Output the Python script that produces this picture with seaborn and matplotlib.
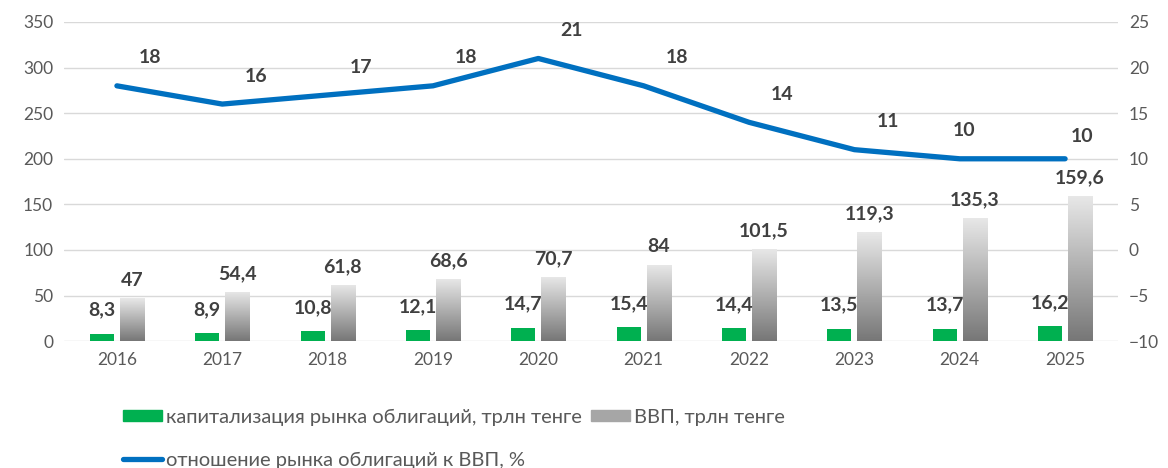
import numpy as np
import pandas as pd
import seaborn as sns
import matplotlib.pyplot as plt
from matplotlib.colors import LinearSegmentedColormap
from matplotlib.patches import Patch
from matplotlib.lines import Line2D

sns.set_theme(style="white")
plt.rcParams['font.family'] = ['Lato', 'DejaVu Sans']

years = ["2016", "2017", "2018", "2019", "2020", "2021", "2022", "2023", "2024", "2025"]
bond_cap = [8.3, 8.9, 10.8, 12.1, 14.7, 15.4, 14.4, 13.5, 13.7, 16.2]
gdp = [47, 54.4, 61.8, 68.6, 70.7, 84, 101.5, 119.3, 135.3, 159.6]
ratio = [18, 16, 17, 18, 21, 18, 14, 11, 10, 10]

CAP_NAME = "капитализация рынка облигаций, трлн тенге"
GDP_NAME = "ВВП, трлн тенге"
RATIO_NAME = "отношение рынка облигаций к ВВП, %"

GREEN = "#00b050"
BLUE = "#0070c0"
TXT = "#595959"
LBL = "#404040"


def fmt(v):
    return f"{v:g}".replace(".", ",")


df = pd.DataFrame({
    "year": years * 2,
    "series": [CAP_NAME] * len(years) + [GDP_NAME] * len(years),
    "value": bond_cap + gdp,
})

fig = plt.figure(figsize=(11.68, 4.68), dpi=100)
ax = fig.add_axes([0.055, 0.271, 0.902, 0.682])

sns.barplot(data=df, x="year", y="value", hue="series", ax=ax,
            palette=[GREEN, "#a6a6a6"], width=0.57, gap=0.2,
            legend=False, saturation=1, edgecolor="none")

ax.set_ylim(0, 350)
ax.set_yticks(range(0, 351, 50))
ax.grid(axis="y", color="#d9d9d9", lw=1)
ax.set_axisbelow(True)
for s in ax.spines.values():
    s.set_visible(False)
ax.set_xlabel("")
ax.set_ylabel("")
ax.tick_params(axis="both", length=0, labelsize=12.5, colors=TXT, pad=8)

# gradient fill for GDP bars, labels for both series
grad = LinearSegmentedColormap.from_list("g", ["#777777", "#e8e8e8"])
n = len(years)
bars = ax.patches
for i, p in enumerate(bars[:n]):
    ax.annotate(fmt(bond_cap[i]), (p.get_x() + p.get_width() / 2, p.get_height()),
                xytext=(0, 11), textcoords="offset points", ha="center", va="bottom",
                fontsize=14, fontweight="bold", color=LBL)
for i, p in enumerate(bars[n:2 * n]):
    x0, w, h = p.get_x(), p.get_width(), p.get_height()
    im = ax.imshow(np.linspace(0, 1, 100).reshape(-1, 1), cmap=grad, aspect="auto",
                   origin="lower", extent=[x0, x0 + w, 0, h], zorder=p.get_zorder())
    im.set_clip_path(p)
    p.set_facecolor("none")
    ax.annotate(fmt(gdp[i]), (x0 + w / 2, h),
                xytext=(0, 7), textcoords="offset points", ha="center", va="bottom",
                fontsize=14, fontweight="bold", color=LBL)
ax.set_xlim(-0.5, n - 0.5)
ax.set_ylim(0, 350)

ax2 = ax.twinx()
sns.lineplot(x=np.arange(n), y=ratio, ax=ax2, color=BLUE, lw=3.8)
ax2.set_ylim(-10, 25)
ax2.set_yticks(range(-10, 26, 5))
for s in ax2.spines.values():
    s.set_visible(False)
ax2.grid(False)
ax2.tick_params(axis="y", length=0, labelsize=12.5, colors=TXT, pad=8)
for i, v in enumerate(ratio):
    off = (24, 14)
    if i == n - 2:
        off = (3, 14)
    elif i == n - 1:
        off = (12, 10)
    ax2.annotate(fmt(v), (i, v), xytext=off, textcoords="offset points",
                 ha="center", va="bottom", fontsize=14, fontweight="bold", color=LBL)

fig.legend(handles=[Patch(color=GREEN, label=CAP_NAME),
                    Patch(color="#a6a6a6", label=GDP_NAME)],
           loc="center left", bbox_to_anchor=(0.09, 1 - 417 / 468), ncol=2,
           frameon=False, fontsize=14.5, handlelength=1.9, handleheight=0.5,
           handletextpad=0.2, columnspacing=0.5, labelcolor=TXT)
fig.legend(handles=[Line2D([0], [0], color=BLUE, lw=3.8, label=RATIO_NAME)],
           loc="center left", bbox_to_anchor=(0.09, 1 - 460 / 468),
           frameon=False, fontsize=14.5, handlelength=1.9, handletextpad=0.2,
           labelcolor=TXT)

fig.savefig("out.png", dpi=100)
